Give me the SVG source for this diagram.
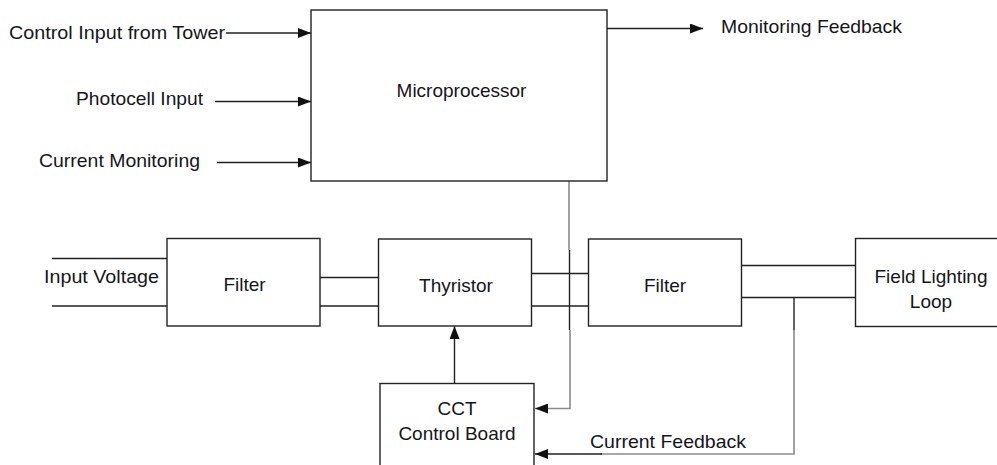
<svg xmlns="http://www.w3.org/2000/svg" width="997" height="465" viewBox="0 0 997 465">
<style>
text{font-family:"Liberation Sans",Arial,sans-serif;font-size:19px;fill:#151520}
.box{fill:#fff;stroke:#222;stroke-width:1.4}
.ln{fill:none;stroke:#222;stroke-width:1.4}
.gr{fill:none;stroke:#8a8a8a;stroke-width:1.6}
</style>
<defs>
<marker id="ah" markerWidth="14" markerHeight="10" refX="13" refY="5" orient="auto" markerUnits="userSpaceOnUse">
<path d="M0,0 L13,5 L0,10 Z" fill="#111"/>
</marker>
</defs>
<rect width="997" height="465" fill="#fff"/>
<g id="connectors">
<line class="ln" x1="226" y1="33" x2="311" y2="33" marker-end="url(#ah)"/>
<line class="ln" x1="215" y1="101.5" x2="311" y2="101.5" marker-end="url(#ah)"/>
<line class="ln" x1="217" y1="162.5" x2="311" y2="162.5" marker-end="url(#ah)"/>
<line class="ln" x1="607" y1="28.5" x2="703" y2="28.5" marker-end="url(#ah)"/>
<line class="ln" x1="52" y1="258.5" x2="167" y2="258.5"/>
<line class="ln" x1="52" y1="306" x2="167" y2="306"/>
<line class="ln" x1="320" y1="277.5" x2="378" y2="277.5"/>
<line class="ln" x1="320" y1="306" x2="378" y2="306"/>
<line class="ln" x1="532" y1="273.5" x2="588" y2="273.5"/>
<line class="ln" x1="532" y1="306" x2="588" y2="306"/>
<line class="ln" x1="741" y1="265.5" x2="857" y2="265.5"/>
<line class="ln" x1="741" y1="297.5" x2="855" y2="297.5"/>
<line class="ln" x1="454.5" y1="383" x2="454.5" y2="326" marker-end="url(#ah)"/>
<polyline class="gr" points="569,181 569,250"/>
<polyline class="ln" points="569.5,250 569.5,330"/>
<polyline class="gr" points="570,330 570,408.5 535,408.5" marker-end="url(#ah)"/>
<polyline class="ln" points="794,297.5 794,330"/>
<polyline class="gr" points="794,330 794,454 600,454"/>
<line class="ln" x1="602" y1="454" x2="535" y2="454" marker-end="url(#ah)"/>
</g>
<g id="labels">
<text x="9" y="39" textLength="216" lengthAdjust="spacingAndGlyphs">Control Input from Tower</text>
<text x="76" y="105" textLength="127" lengthAdjust="spacingAndGlyphs">Photocell Input</text>
<text x="39" y="167" textLength="161" lengthAdjust="spacingAndGlyphs">Current Monitoring</text>
<text x="721" y="33" textLength="181" lengthAdjust="spacingAndGlyphs">Monitoring Feedback</text>
<text x="44" y="283" textLength="115" lengthAdjust="spacingAndGlyphs">Input Voltage</text>
<text x="590" y="448" textLength="156" lengthAdjust="spacingAndGlyphs">Current Feedback</text>
</g>
<g id="microprocessor">
<rect class="box" x="311" y="10" width="296" height="171"/>
<text x="461.5" y="97" text-anchor="middle">Microprocessor</text>
</g>
<g id="filter1">
<rect class="box" x="167" y="238.5" width="153" height="87.5"/>
<text x="244.5" y="291" text-anchor="middle">Filter</text>
</g>
<g id="thyristor">
<rect class="box" x="378.5" y="239" width="153" height="87"/>
<text x="456" y="291.5" text-anchor="middle">Thyristor</text>
</g>
<g id="filter2">
<rect class="box" x="588.5" y="239" width="153" height="87"/>
<text x="665" y="291.5" text-anchor="middle">Filter</text>
</g>
<g id="field-lighting-loop">
<rect class="box" x="855.5" y="238.5" width="150" height="88"/>
<text x="931" y="283" text-anchor="middle">Field Lighting</text>
<text x="931" y="308" text-anchor="middle">Loop</text>
</g>
<g id="cct-control-board">
<rect class="box" x="380" y="383.5" width="154" height="100"/>
<text x="457" y="415" text-anchor="middle">CCT</text>
<text x="457" y="439.5" text-anchor="middle">Control Board</text>
</g>
</svg>
